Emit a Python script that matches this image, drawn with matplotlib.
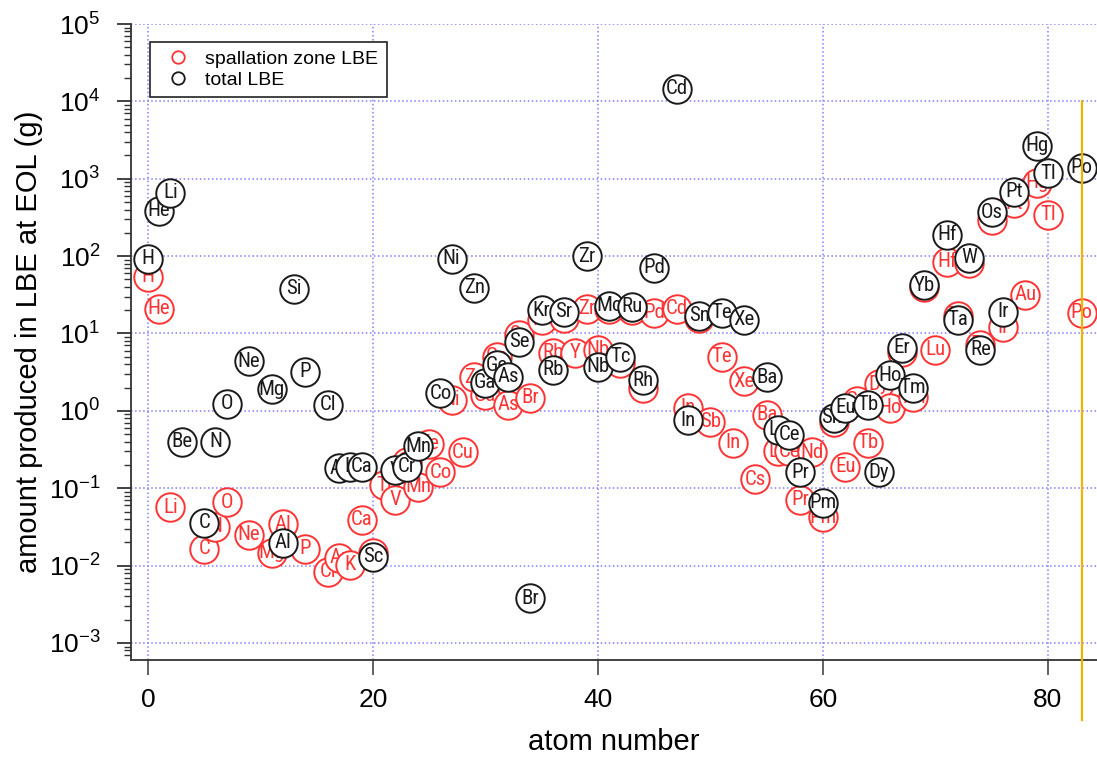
import numpy as np
import matplotlib
matplotlib.use("Agg")
import matplotlib.pyplot as plt
from matplotlib.lines import Line2D
from matplotlib.ticker import LogLocator, LogFormatterMathtext, NullFormatter

plt.rcParams['font.family'] = ['Liberation Sans', 'DejaVu Sans']
plt.rcParams['mathtext.default'] = 'regular'

# spallation zone LBE (red) -- x as plotted on the atom number axis
spall_names = ['H', 'He', 'Li', 'C', 'N', 'O', 'Ne', 'Mg', 'Al', 'P', 'Cl', 'Ar', 'K', 'Ca',
               'Sc', 'Ti', 'V', 'Cr', 'Mn', 'Fe', 'Co', 'Ni', 'Cu', 'Zn', 'Ga', 'Ge', 'As',
               'Se', 'Br', 'Kr', 'Rb', 'Sr', 'Y', 'Zr', 'Nb', 'Mo', 'Tc', 'Ru', 'Rh', 'Pd',
               'Cd', 'In', 'Sn', 'Sb', 'Te', 'In', 'Xe', 'Cs', 'Ba', 'La', 'Ce', 'Pr', 'Nd',
               'Pm', 'Sm', 'Eu', 'Gd', 'Tb', 'Dy', 'Ho', 'Er', 'Tm', 'Yb', 'Lu', 'Hf', 'Ta',
               'W', 'Re', 'Os', 'Ir', 'Pt', 'Au', 'Hg', 'Tl', 'Po']
spall_x = [0, 1, 2, 5, 6, 7, 9, 11, 12, 14, 16, 17, 18, 19,
           20, 21, 22, 23, 24, 25, 26, 27, 28, 29, 30, 31, 32,
           33, 34, 35, 36, 37, 38, 39, 40, 41, 42, 43, 44, 45,
           47, 48, 49, 50, 51, 52, 53, 54, 55, 56, 57, 58, 59,
           60, 61, 62, 63, 64, 65, 66, 67, 68, 69, 70, 71, 72,
           73, 74, 75, 76, 77, 78, 79, 80, 83]
spall_g = [54, 21, 0.057, 0.0166, 0.032, 0.066, 0.025, 0.0147, 0.034, 0.0166, 0.0083, 0.0126, 0.0103, 0.039,
           0.0147, 0.11, 0.071, 0.22, 0.105, 0.375, 0.16, 1.39, 0.29, 2.7, 1.6, 5.0, 1.2,
           9.6, 1.47, 15, 5.6, 16, 5.6, 21, 6.2, 21, 4.2, 20, 2.0, 18.5,
           21, 1.1, 16, 0.72, 5.0, 0.39, 2.4, 0.13, 0.89, 0.30, 0.30, 0.071, 0.29,
           0.042, 0.72, 0.19, 1.35, 0.39, 2.2, 1.1, 5.8, 1.5, 40, 6.2, 85, 17,
           82, 7.1, 295, 12, 485, 31.6, 885, 340, 18.5]

# total LBE (black)
total_names = ['H', 'He', 'Li', 'Be', 'C', 'N', 'O', 'Ne', 'Mg', 'Al', 'Si', 'P', 'Cl', 'Ar',
               'K', 'Ca', 'Sc', 'V', 'Cr', 'Mn', 'Co', 'Ni', 'Zn', 'Ga', 'Ge', 'As', 'Se',
               'Br', 'Kr', 'Rb', 'Sr', 'Zr', 'Nb', 'Mo', 'Tc', 'Ru', 'Rh', 'Pd', 'Cd', 'In',
               'Sn', 'Te', 'Xe', 'Ba', 'La', 'Ce', 'Pr', 'Pm', 'Sm', 'Eu', 'Tb', 'Dy', 'Ho',
               'Er', 'Tm', 'Yb', 'Hf', 'Ta', 'W', 'Re', 'Os', 'Ir', 'Pt', 'Hg', 'Tl', 'Po']
total_x = [0, 1, 2, 3, 5, 6, 7, 9, 11, 12, 13, 14, 16, 17,
           18, 19, 20, 22, 23, 24, 26, 27, 29, 30, 31, 32, 33,
           34, 35, 36, 37, 39, 40, 41, 42, 43, 44, 45, 47, 48,
           49, 51, 53, 55, 56, 57, 58, 60, 61, 62, 64, 65, 66,
           67, 68, 69, 71, 72, 73, 74, 75, 76, 77, 79, 80, 83]
total_g = [92, 384, 655, 0.40, 0.036, 0.40, 1.23, 4.4, 1.9, 0.0196, 38, 3.2, 1.2, 0.18,
           0.19, 0.19, 0.013, 0.17, 0.19, 0.35, 1.7, 92, 39, 2.3, 3.9, 2.75, 7.8,
           0.0038, 20, 3.4, 19, 100, 3.7, 23, 5.0, 22, 2.5, 71, 14500, 0.76,
           17, 18.5, 15, 2.7, 0.57, 0.49, 0.16, 0.065, 0.81, 1.1, 1.2, 0.16, 2.9,
           6.5, 2.0, 42, 188, 15, 95, 6.2, 370, 19, 680, 2650, 1180, 1380]

eol_marker_x = 83

red = '#ff3333'
dark = '#1a1a1a'
label_font = ['Roboto Condensed', 'Liberation Sans Narrow', 'DejaVu Sans']

fig = plt.figure(figsize=(10.97, 7.57), dpi=100)
ax = fig.add_axes([131 / 1097, 97 / 757, 966 / 1097, 636 / 757])
ax.set_yscale('log')
ax.set_xlim(-1.5, 84.36)
ax.set_ylim(10 ** -3.22, 1e5)

ax.grid(True, which='major', color='#8080ff', linestyle=':', linewidth=1.1)
ax.set_axisbelow(True)

z = 3
for names, xs, gs, col in [(spall_names, spall_x, spall_g, red),
                           (total_names, total_x, total_g, dark)]:
    for n, x, g in zip(names, xs, gs):
        ax.plot([x], [g], 'o', ms=20.5, mfc='white', mec=col, mew=1.4, zorder=z)
        ax.text(x, g, n, ha='center', va='center', color=col, fontsize=15,
                family=label_font, fontstretch='condensed', zorder=z + 0.5)
        z += 1

ax.plot([eol_marker_x, eol_marker_x], [1e4, 1e-4], color='#f2b200', lw=1.6,
        clip_on=False, zorder=z + 1)

ax.spines['top'].set_visible(False)
ax.spines['right'].set_visible(False)
for s in ['left', 'bottom']:
    ax.spines[s].set_linewidth(1.3)
    ax.spines[s].set_color('#333333')

ax.set_xticks([0, 20, 40, 60, 80])
ax.yaxis.set_major_locator(LogLocator(base=10, numticks=20))
ax.yaxis.set_minor_locator(LogLocator(base=10, subs=np.arange(2, 10), numticks=20))
ax.yaxis.set_major_formatter(LogFormatterMathtext())
ax.yaxis.set_minor_formatter(NullFormatter())
ax.tick_params(axis='x', direction='out', length=11, width=1.3, color='#555555',
               labelsize=19, pad=9)
ax.tick_params(axis='y', which='major', direction='out', length=10, width=1.3,
               color='#333333', labelsize=19, pad=12)
ax.tick_params(axis='y', which='minor', direction='out', length=5, width=1.0,
               color='#333333')

ax.set_xlabel('atom number', fontsize=21, labelpad=12)
ax.set_ylabel('amount produced in LBE at EOL (g)', fontsize=21, labelpad=4)

handles = [Line2D([], [], marker='o', ls='none', ms=9, mfc='none', mec=red, mew=1.3),
           Line2D([], [], marker='o', ls='none', ms=9, mfc='none', mec=dark, mew=1.3)]
leg = ax.legend(handles, ['spallation zone LBE', 'total LBE'], loc='upper left',
                bbox_to_anchor=(0.0197, 0.972), borderaxespad=0, fontsize=14,
                fancybox=False, framealpha=1, edgecolor='#222222', borderpad=0.45,
                labelspacing=0.15, handlelength=2.0, handletextpad=0.4)
leg.get_frame().set_linewidth(1.2)
leg.set_zorder(1000)

fig.savefig('out.png', dpi=100)
